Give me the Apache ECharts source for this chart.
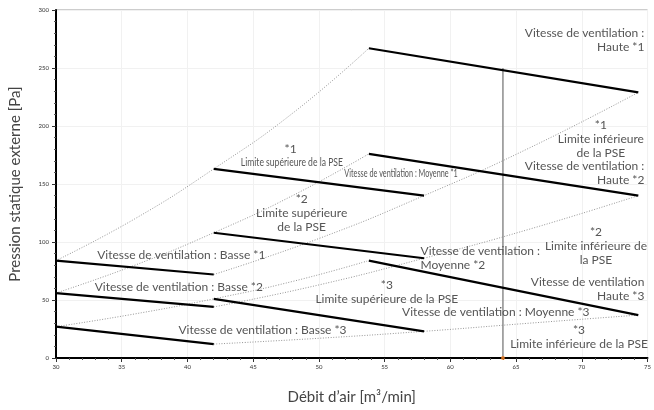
<!DOCTYPE html>
<html>
<head>
<meta charset="utf-8">
<script src="https://cdn.jsdelivr.net/npm/echarts@6/dist/echarts.min.js"></script>
<style>
  html, body { margin: 0; padding: 0; background: #fff; }
  #chart { width: 654px; height: 410px; }
</style>
</head>
<body>
<div id="chart"></div>
<script>
// Fan curves (solid): external static pressure [Pa] vs air flow [m3/min]
const basse1   = [[30, 84], [42, 72]];
const moyenne1 = [[42, 163], [58, 140]];
const haute1   = [[53.8, 267], [74.3, 229]];
const basse2   = [[30, 56], [42, 44]];
const moyenne2 = [[42, 108], [58, 86]];
const haute2   = [[53.8, 176], [74.3, 140]];
const basse3   = [[30, 27], [42, 12]];
const moyenne3 = [[42, 51], [58, 23]];
const haute3   = [[53.8, 84], [74.3, 37]];

// ESP limit curves (dotted)
const limSup1 = [[30, 84], [36, 120], [42, 163], [48, 211], [53.8, 267]];
const limSup2 = [[30, 56], [36, 80], [42, 108], [48, 140], [53.8, 176]];
const limSup3 = [[30, 27], [36, 38], [42, 51], [48, 66], [53.8, 84]];
const limInf1 = [[42, 72], [50, 103], [58, 140], [66, 181], [74.3, 229]];
const limInf2 = [[42, 44], [50, 63], [58, 86], [66, 111], [74.3, 140]];
const limInf3 = [[42, 12], [50, 17], [58, 23], [66, 30], [74.3, 37]];

// Rated air flow marker
const ratedFlow = [[64, 0], [64, 250]];

// Axis ranges
const xMin = 30, xMax = 75, xStep = 5;
const yMin = 0, yMax = 300, yStep = 50;

// Annotation texts, anchored in data coordinates
const notes = [
  { at: [74.76, 274.1], align: 'right',  text: 'Vitesse de ventilation :\nHaute *1' },
  { at: [71.45, 188.6], align: 'center', text: '*1\nLimite inférieure\nde la PSE' },
  { at: [74.76, 159.6], align: 'right',  text: 'Vitesse de ventilation :\nHaute *2' },
  { at: [71.08, 96.3],  align: 'center', text: '*2\nLimite inférieure de\nla PSE' },
  { at: [57.73, 86.5],  align: 'left',   text: 'Vitesse de ventilation :\nMoyenne *2' },
  { at: [74.76, 59.1],  align: 'right',  text: 'Vitesse de ventilation\nHaute *3' },
  { at: [63.46, 39.9],  align: 'center', text: 'Vitesse de ventilation : Moyenne *3' },
  { at: [69.79, 18.1],  align: 'center', text: '*3\nLimite inférieure de la PSE' },
  { at: [55.17, 57.0],  align: 'center', text: '*3\nLimite supérieure de la PSE' },
  { at: [45.71, 23.7],  align: 'center', text: 'Vitesse de ventilation : Basse *3' },
  { at: [39.34, 61.3],  align: 'center', text: 'Vitesse de ventilation : Basse *2' },
  { at: [39.53, 88.6],  align: 'center', text: 'Vitesse de ventilation : Basse *1' },
  { at: [47.85, 180.3], align: 'center', text: '*1' },
  { at: [47.94, 169.0], align: 'center', text: 'Limite supérieure de la PSE', squeeze: 0.78 },
  { at: [56.25, 158.7], align: 'center', text: 'Vitesse de ventilation : Moyenne *1', squeeze: 0.66 },
  { at: [48.69, 125.0], align: 'center', text: '*2\nLimite supérieure\nde la PSE' }
];

const FONT = 'Lato, "Noto Sans", sans-serif';

function solid(data) {
  return {
    type: 'line', data: data, symbol: 'none', silent: true,
    lineStyle: { color: '#000', width: 2.2 }, z: 3
  };
}
function dotted(data) {
  return {
    type: 'line', data: data, symbol: 'none', smooth: true, silent: true,
    lineStyle: { color: '#8a8a8a', width: 0.9, type: [1, 1.6] }, z: 2
  };
}

const chart = echarts.init(document.getElementById('chart'), null, { renderer: 'canvas' });

chart.setOption({
  animation: false,
  backgroundColor: '#fff',
  grid: { left: 54, right: 3, top: 10, bottom: 49, show: true, borderColor: '#9a9a9a', borderWidth: 1 },
  xAxis: {
    type: 'value', min: xMin, max: xMax, interval: xStep,
    name: 'Débit d’air [m³/min]', nameLocation: 'middle', nameGap: 32,
    nameTextStyle: { fontFamily: FONT, fontSize: 15, color: '#444' },
    axisLine: { lineStyle: { color: '#000', width: 2 } },
    axisTick: { length: 4, lineStyle: { color: '#333', width: 1 } },
    minorTick: { show: true, splitNumber: 5, length: 2, lineStyle: { color: '#555' } },
    axisLabel: { fontSize: 6, color: '#333', margin: 6, fontFamily: FONT },
    splitLine: { show: true, lineStyle: { color: '#f1f1f1', width: 1 } }
  },
  yAxis: {
    type: 'value', min: yMin, max: yMax, interval: yStep,
    name: 'Pression statique externe [Pa]', nameLocation: 'middle', nameGap: 33,
    nameTextStyle: { fontFamily: FONT, fontSize: 15, color: '#444' },
    axisLine: { show: true, lineStyle: { color: '#000', width: 2 } },
    axisTick: { show: true, length: 4, lineStyle: { color: '#333', width: 1 } },
    minorTick: { show: true, splitNumber: 5, length: 2, lineStyle: { color: '#555' } },
    axisLabel: { fontSize: 6, color: '#333', margin: 7, fontFamily: FONT },
    splitLine: { show: true, lineStyle: { color: '#f1f1f1', width: 1 } }
  },
  series: [
    dotted(limSup1), dotted(limSup2), dotted(limSup3),
    dotted(limInf1), dotted(limInf2), dotted(limInf3),
    solid(basse1), solid(moyenne1), solid(haute1),
    solid(basse2), solid(moyenne2), solid(haute2),
    solid(basse3), solid(moyenne3), solid(haute3),
    {
      type: 'line', data: ratedFlow, symbol: 'none', silent: true, z: 1,
      lineStyle: { color: '#8c8c8c', width: 1.5 }
    },
    {
      type: 'scatter', data: [ratedFlow[0]], symbolSize: 4, silent: true, z: 5,
      itemStyle: { color: '#f07a1a' }
    }
  ]
});

// Place annotation texts at their data anchors
chart.setOption({
  graphic: notes.map(function (n) {
    const p = chart.convertToPixel({ gridIndex: 0 }, n.at);
    return {
      type: 'text', x: p[0], y: p[1], silent: true, z: 10,
      scaleX: n.squeeze || 1,
      style: {
        text: n.text, fill: '#555',
        font: (n.squeeze ? '11px ' : '12px ') + FONT,
        textAlign: n.align, textVerticalAlign: 'middle', lineHeight: 14
      }
    };
  })
});
</script>
</body>
</html>
